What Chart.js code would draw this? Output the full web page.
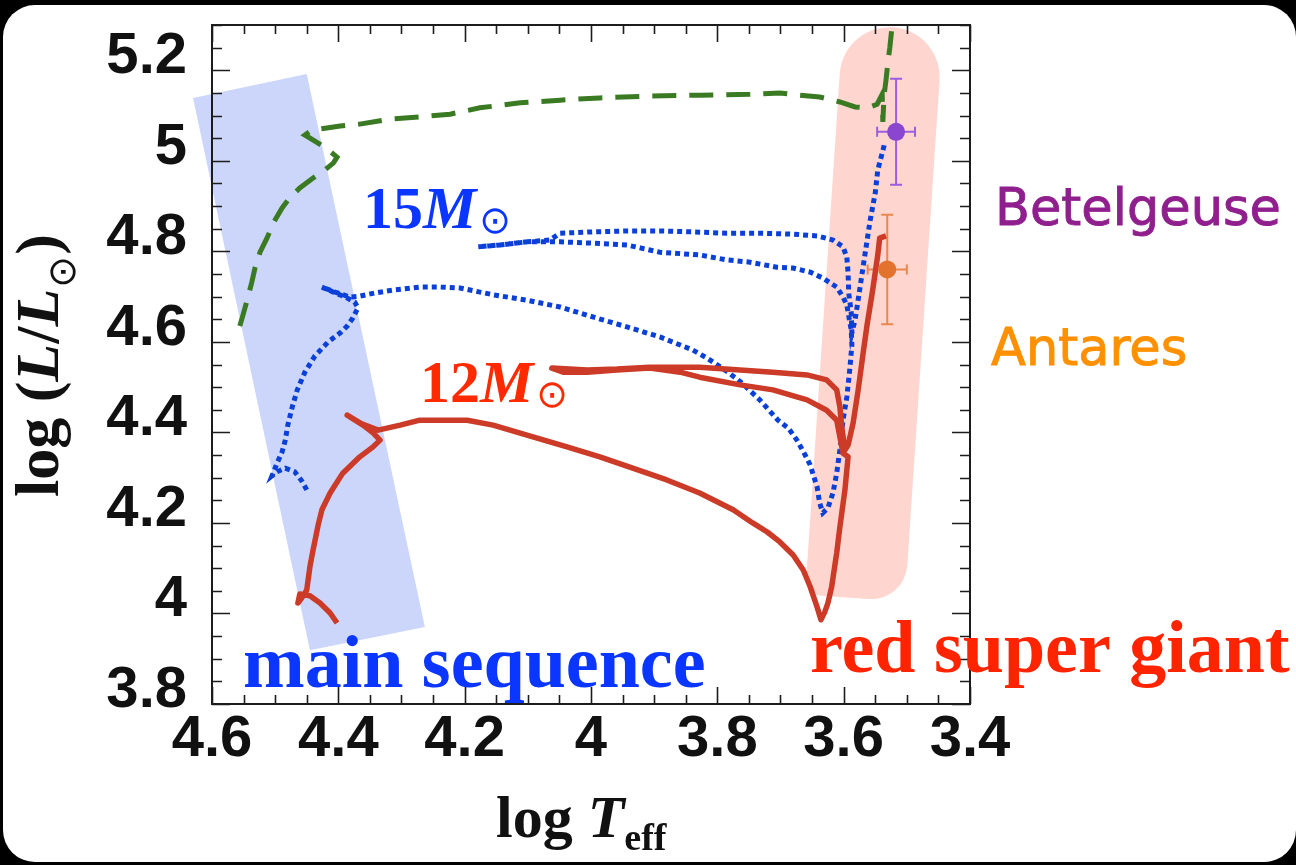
<!DOCTYPE html>
<html><head><meta charset="utf-8">
<script src="https://cdn.jsdelivr.net/npm/chart.js@4.4.0/dist/chart.umd.min.js"></script>
<style>
html,body{margin:0;padding:0;background:#000;width:1296px;height:865px;overflow:hidden;}
#panel{position:absolute;left:3px;top:5px;width:1293px;height:857px;background:#fff;border-radius:32px;}
#wrap{position:absolute;left:0;top:0;width:1296px;height:865px;}
canvas{display:block;}
</style></head><body>
<div id="panel"></div>
<div id="wrap"><canvas id="c" width="1296" height="865"></canvas></div>
<script>
// ---- Evolutionary tracks (log Teff, log L/Lsun) ----
const greenT = [4.556,4.551,4.543,4.537,4.532,4.524,4.513,4.502,4.489,4.477,4.461,4.440,4.421,4.408,4.402,4.416,4.432,4.453,4.442,4.421,4.397,4.366,4.318,4.271,4.223,4.176,4.112,4.049,3.986,3.907,3.827,3.748,3.701,3.669,3.638,3.606,3.582,3.562,3.547,3.539,3.538,3.536,3.533,3.530,3.527,3.524,3.520];
const greenL = [4.635,4.659,4.699,4.732,4.763,4.798,4.829,4.865,4.896,4.918,4.940,4.962,4.980,4.995,5.008,5.024,5.039,5.057,5.068,5.072,5.077,5.081,5.092,5.097,5.103,5.117,5.128,5.134,5.139,5.143,5.145,5.147,5.150,5.145,5.141,5.130,5.119,5.117,5.125,5.147,5.086,5.145,5.178,5.218,5.249,5.289,5.322];

const blueT = [4.450,4.458,4.469,4.484,4.497,4.505,4.497,4.489,4.484,4.480,
4.473,4.465,4.453,4.437,4.416,4.397,4.386,4.377,4.369,4.374,
4.389,4.408,4.426,4.405,4.382,4.366,4.342,4.310,4.271,4.239,
4.207,4.155,4.101,4.049,3.997,3.943,3.891,3.839,3.816,3.783,
3.761,3.733,3.704,3.688,3.674,3.661,3.653,3.642,3.638,3.633,
3.625,3.617,3.611,3.606,3.601,3.595,3.590,3.587,3.588,3.595,
3.601,3.611,3.633,3.653,3.680,3.706,3.748,3.785,3.828,3.891,
3.943,3.997,4.049,4.101,4.144,4.179,4.144,4.101,4.065,4.049,
3.997,3.943,3.891,3.839,3.785,3.733,3.680,3.642,3.617,3.601,
3.595,3.593,3.592,3.588,3.587,3.582,3.574,3.566,3.558,3.550,
3.546,3.539,3.535];
const blueL = [4.273,4.293,4.313,4.321,4.313,4.304,4.332,4.357,4.383,4.416,
4.456,4.494,4.533,4.569,4.600,4.620,4.635,4.653,4.675,4.688,
4.699,4.710,4.721,4.710,4.699,4.701,4.708,4.715,4.721,4.721,
4.719,4.704,4.692,4.677,4.655,4.633,4.611,4.582,4.564,4.533,
4.509,4.472,4.427,4.410,4.383,4.350,4.328,4.279,4.244,4.222,
4.233,4.266,4.310,4.361,4.427,4.478,4.544,4.593,4.626,4.681,
4.699,4.721,4.741,4.754,4.763,4.765,4.776,4.781,4.792,4.798,
4.814,4.818,4.821,4.821,4.814,4.810,4.814,4.821,4.825,4.840,
4.843,4.845,4.845,4.843,4.840,4.840,4.838,4.834,4.825,4.810,
4.787,4.752,4.708,4.664,4.620,4.648,4.721,4.796,4.869,4.929,
4.980,5.017,5.039];

const redT = [4.402,4.413,4.429,4.445,4.461,4.464,4.458,4.450,4.445,4.440,
4.432,4.426,4.413,4.393,4.366,4.345,4.334,4.345,4.361,4.386,
4.363,4.337,4.302,4.271,4.196,4.155,4.092,4.038,3.986,3.934,
3.880,3.828,3.775,3.744,3.721,3.701,3.680,3.664,3.653,3.642,
3.636,3.630,3.625,3.619,3.611,3.606,3.598,3.593,3.601,3.606,
3.611,3.627,3.658,3.712,3.764,3.828,3.859,3.907,3.959,4.006,
4.044,4.062,4.006,3.959,3.907,3.828,3.764,3.712,3.658,3.627,
3.611,3.606,3.603,3.598,3.593,3.585,3.577,3.570,3.563,3.554,
3.546,3.543,3.533];
const redL = [3.979,4.001,4.023,4.039,4.043,4.023,4.034,4.052,4.103,4.140,
4.195,4.229,4.266,4.310,4.346,4.368,4.383,4.399,4.416,4.438,
4.419,4.405,4.416,4.427,4.427,4.416,4.390,4.368,4.346,4.321,
4.295,4.266,4.229,4.200,4.180,4.158,4.129,4.096,4.059,4.014,
3.986,4.003,4.023,4.059,4.134,4.191,4.273,4.346,4.354,4.390,
4.427,4.449,4.472,4.494,4.505,4.522,4.533,4.542,4.538,4.533,
4.533,4.542,4.538,4.540,4.544,4.544,4.538,4.533,4.527,4.516,
4.494,4.456,4.412,4.361,4.372,4.421,4.494,4.567,4.637,4.715,
4.792,4.829,4.834];

// ---- Observed stars ----
const starNames = ['Betelgeuse', 'Antares'];
const starT = [3.517, 3.531];
const starL = [5.064, 4.760];
const starErrT = [0.030, 0.031];
const starErrL = [0.117, 0.121];

// ---- Axis ticks ----
const xTicks = [4.6, 4.4, 4.2, 4.0, 3.8, 3.6, 3.4];
const yTicks = [3.8, 4.0, 4.2, 4.4, 4.6, 4.8, 5.0, 5.2];

// ---- Shaded regions (data coordinates) ----
const msBandT = [4.630, 4.450, 4.263, 4.445];
const msBandL = [5.139, 5.192, 3.970, 3.919];
const rsgBandT = [3.522, 3.582];
const rsgBandL = [5.295, 4.034];

const pts = (T, L) => T.map((t, i) => ({x: t, y: L[i]}));
const fmt = v => String(parseFloat(Number(v).toFixed(1)));

const SERIF = '"Liberation Serif", "Times New Roman", serif';
const SANS = '"Liberation Sans", Arial, sans-serif';
const SYM = '"DejaVu Sans", sans-serif';

const bandsPlugin = {
  id: 'bands',
  beforeDatasetsDraw(chart) {
    const {ctx, scales: {x, y}} = chart;
    ctx.save();
    ctx.fillStyle = 'rgb(204,214,250)';
    ctx.beginPath();
    msBandT.forEach((t, i) => {
      const px = x.getPixelForValue(t), py = y.getPixelForValue(msBandL[i]);
      if (i) ctx.lineTo(px, py); else ctx.moveTo(px, py);
    });
    ctx.closePath(); ctx.fill();
    const tx = x.getPixelForValue(rsgBandT[0]), ty = y.getPixelForValue(rsgBandL[0]);
    const bx = x.getPixelForValue(rsgBandT[1]), by = y.getPixelForValue(rsgBandL[1]);
    const len = Math.hypot(bx - tx, by - ty);
    const ang = Math.atan2(by - ty, bx - tx) - Math.PI / 2;
    ctx.save();
    ctx.translate(tx, ty); ctx.rotate(ang);
    ctx.fillStyle = 'rgb(255,213,207)';
    ctx.beginPath(); ctx.roundRect(-50, 0, 100, len, [50, 50, 36, 16]); ctx.fill();
    ctx.restore();
    // error bars
    const barCols = ['#9a5ee0', '#e8874e'];
    starT.forEach((t, i) => {
      const cx = x.getPixelForValue(t), cy = y.getPixelForValue(starL[i]);
      const x1 = x.getPixelForValue(t + starErrT[i]), x2 = x.getPixelForValue(t - starErrT[i]);
      const y1 = y.getPixelForValue(starL[i] + starErrL[i]), y2 = y.getPixelForValue(starL[i] - starErrL[i]);
      ctx.strokeStyle = barCols[i]; ctx.lineWidth = 2;
      ctx.beginPath();
      ctx.moveTo(x1, cy); ctx.lineTo(x2, cy);
      ctx.moveTo(cx, y1); ctx.lineTo(cx, y2);
      ctx.moveTo(x1, cy - 5); ctx.lineTo(x1, cy + 5);
      ctx.moveTo(x2, cy - 5); ctx.lineTo(x2, cy + 5);
      ctx.moveTo(cx - 6, y1); ctx.lineTo(cx + 6, y1);
      ctx.moveTo(cx - 6, y2); ctx.lineTo(cx + 6, y2);
      ctx.stroke();
    });
    ctx.restore();
  }
};

const framePlugin = {
  id: 'frame',
  afterDatasetsDraw(chart) {
    const {ctx, chartArea: {left, right, top, bottom}, scales: {x, y}} = chart;
    ctx.save();
    ctx.strokeStyle = '#1c1c1c';
    ctx.lineWidth = 1.6;
    ctx.beginPath();
    for (let k = 68; k <= 92; k++) {
      const px = Math.round(x.getPixelForValue(k / 20)) + 0.5;
      const len = k % 4 === 0 ? 17 : 9;
      ctx.moveTo(px, bottom); ctx.lineTo(px, bottom - len);
      ctx.moveTo(px, top); ctx.lineTo(px, top + len);
    }
    for (let k = 76; k <= 106; k++) {
      const py = Math.round(y.getPixelForValue(k / 20)) + 0.5;
      const len = k % 4 === 0 ? 18 : 10;
      ctx.moveTo(left, py); ctx.lineTo(left + len, py);
      ctx.moveTo(right, py); ctx.lineTo(right - len, py);
    }
    ctx.stroke();
    ctx.lineWidth = 2;
    ctx.strokeRect(left, top, right - left, bottom - top);
    ctx.restore();
  }
};

function runs(ctx, x, y, list) {
  let cx = x;
  list.forEach(r => {
    ctx.font = r.font;
    ctx.textBaseline = r.mid ? 'middle' : 'alphabetic';
    ctx.fillText(r.t, cx + (r.dx || 0), y + (r.dy || 0));
    cx += ctx.measureText(r.t).width + (r.dx || 0) + (r.after || 0);
  });
  ctx.textBaseline = 'alphabetic';
}

const textPlugin = {
  id: 'texts',
  afterDraw(chart) {
    const ctx = chart.ctx;
    ctx.save();
    ctx.textAlign = 'left';
    // x-axis title
    ctx.fillStyle = '#111';
    runs(ctx, 496, 837, [
      {t: 'log ', font: `bold 60px ${SERIF}`},
      {t: 'T', font: `italic bold 60px ${SERIF}`},
      {t: 'eff', font: `bold 38px ${SERIF}`, dy: 13}
    ]);
    // y-axis title (rotated)
    ctx.save();
    ctx.translate(58, 497); ctx.rotate(-Math.PI / 2);
    runs(ctx, 0, 0, [
      {t: 'log (', font: `bold 62px ${SERIF}`},
      {t: 'L', font: `italic bold 62px ${SERIF}`},
      {t: '/', font: `bold 62px ${SERIF}`},
      {t: 'L', font: `italic bold 62px ${SERIF}`},
      {t: '\u2299', font: `38px ${SYM}`, dy: 7, mid: true, dx: 1},
      {t: ')', font: `bold 62px ${SERIF}`, dx: 1}
    ]);
    ctx.restore();
    // mass labels
    ctx.fillStyle = '#0a36ff';
    runs(ctx, 363, 228, [
      {t: '15', font: `bold 60px ${SERIF}`},
      {t: 'M', font: `italic bold 60px ${SERIF}`},
      {t: '\u2299', font: `38px ${SYM}`, dy: -5, dx: 3, mid: true}
    ]);
    ctx.fillStyle = '#ff2a00';
    runs(ctx, 420, 402, [
      {t: '12', font: `bold 60px ${SERIF}`},
      {t: 'M', font: `italic bold 60px ${SERIF}`},
      {t: '\u2299', font: `38px ${SYM}`, dy: -5, dx: 3, mid: true}
    ]);
    // region labels
    ctx.font = `bold 74px ${SERIF}`;
    ctx.fillStyle = '#0a36ff';
    ctx.fillText('main sequence', 243, 687);
    ctx.fillStyle = '#ff2400';
    ctx.fillText('red super giant', 810, 672);
    // star names
    ctx.font = `51px ${SYM}`;
    ctx.lineWidth = 0.9;
    ctx.fillStyle = '#901f8e'; ctx.strokeStyle = '#901f8e';
    ctx.fillText(starNames[0], 995, 225);
    ctx.strokeText(starNames[0], 995, 225);
    ctx.fillStyle = '#ff9000'; ctx.strokeStyle = '#ff9000';
    ctx.fillText(starNames[1], 991, 365);
    ctx.strokeText(starNames[1], 991, 365);
    ctx.restore();
  }
};

function build() {
  new Chart(document.getElementById('c'), {
    type: 'scatter',
    data: {
      datasets: [
        {label: starNames[0], data: [{x: starT[0], y: starL[0]}], pointRadius: 9, pointBackgroundColor: '#8a46cf', pointBorderWidth: 0, showLine: false},
        {label: starNames[1], data: [{x: starT[1], y: starL[1]}], pointRadius: 9, pointBackgroundColor: '#e3722f', pointBorderWidth: 0, showLine: false},
        {label: '12 Msun', data: pts(redT, redL), showLine: true, borderColor: '#cc3a28', borderWidth: 5.5, pointRadius: 0, tension: 0, borderJoinStyle: 'round'},
        {label: '15 Msun', data: pts(blueT, blueL), showLine: true, borderColor: '#0a3fd8', borderWidth: 5, borderDash: [5, 4], pointRadius: 0, tension: 0},
        {label: '20 Msun', data: pts(greenT, greenL), showLine: true, borderColor: '#3a7a22', borderWidth: 5, borderDash: [24, 13], pointRadius: 0, tension: 0}
      ]
    },
    options: {
      responsive: false, animation: false, devicePixelRatio: 1, events: [],
      layout: {padding: {left: 0, top: 25, right: 326, bottom: 0}},
      plugins: {legend: {display: false}, tooltip: {enabled: false}},
      scales: {
        x: {
          type: 'linear', reverse: true, min: 3.4, max: 4.6,
          afterBuildTicks: s => { s.ticks = xTicks.map(v => ({value: v})); },
          afterFit: s => { s.height = 161; s.paddingLeft = 0; s.paddingRight = 0; },
          grid: {display: false, drawTicks: false}, border: {display: false},
          ticks: {padding: 1, maxRotation: 0, autoSkip: false, color: '#111',
            font: {family: SANS, size: 58, weight: 'bold'}, callback: v => fmt(v)}
        },
        y: {
          type: 'linear', min: 3.8, max: 5.3,
          afterBuildTicks: s => { s.ticks = yTicks.map(v => ({value: v})); },
          afterFit: s => { s.width = 212; s.paddingTop = 0; s.paddingBottom = 0; },
          grid: {display: false, drawTicks: false}, border: {display: false},
          ticks: {padding: 25, labelOffset: -13, autoSkip: false, color: '#111',
            font: {family: SANS, size: 58, weight: 'bold'}, callback: v => fmt(v)}
        }
      }
    },
    plugins: [bandsPlugin, framePlugin, textPlugin]
  });
}

const loads = [
  'bold 60px "Liberation Serif"', 'italic bold 60px "Liberation Serif"',
  'bold 58px "Liberation Sans"', '38px "DejaVu Sans"'
].map(f => document.fonts.load(f, 'Aa1\u2299').catch(() => null));
Promise.race([Promise.all(loads), new Promise(r => setTimeout(r, 1500))]).then(build);
</script>
</body></html>
